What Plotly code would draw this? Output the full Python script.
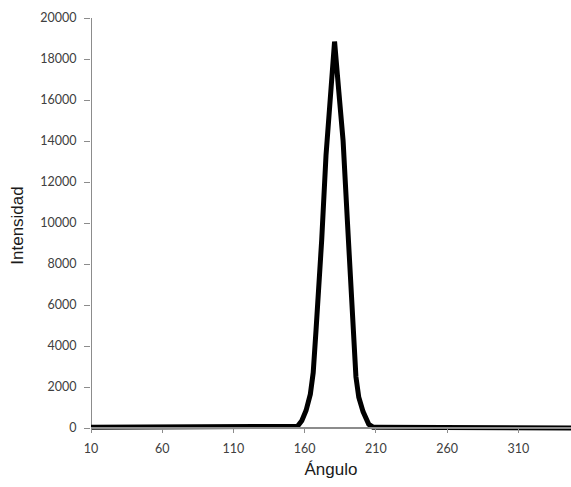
import plotly.graph_objects as go

# Intensity profile versus angle
angulo = [10, 20, 30, 40, 50, 60, 70, 80, 90, 100, 110, 120, 130, 140, 150,
          155, 158, 161, 164, 166, 168, 170, 172, 175, 178, 181,
          184, 187, 190, 192, 194, 196, 198, 201, 205, 208,
          210, 220, 230, 240, 250, 260, 270, 280, 290,
          291, 300, 310, 320, 330, 340, 350, 360]
intensidad = [40, 40, 40, 40, 40, 40, 40, 40, 40, 40, 40, 40, 40, 40, 40,
              80, 350, 850, 1650, 2700, 4780, 6900, 9200, 13300, 16100, 18850,
              16400, 14000, 10100, 7700, 5300, 2500, 1500, 800, 180, 40,
              40, 40, 40, 40, 40, 40, 40, 40, 40,
              0, 0, 0, 0, 0, 0, 0, 0]

x_ticks = [10, 60, 110, 160, 210, 260, 310]
y_ticks = list(range(0, 20001, 2000))

X_MIN, X_MAX = 10, 347
Y_MIN, Y_MAX = -244, 20000

axis_grey = "#8c8c8c"
tick_font = dict(family="Lato, Carlito, Open Sans, sans-serif", size=12.5, color="#404040")
title_font = dict(family="Liberation Sans, Arial, sans-serif", size=17, color="#1a1a1a")

fig = go.Figure()

fig.add_trace(go.Scatter(
    x=angulo, y=intensidad, mode="lines",
    line=dict(color="#000000", width=5),
    hoverinfo="skip", showlegend=False,
))

# vertical axis line from 0 to the top of the value range
fig.add_shape(type="line", xref="x", yref="y", x0=X_MIN, x1=X_MIN, y0=0, y1=Y_MAX,
              line=dict(color=axis_grey, width=2), layer="below")

fig.update_layout(
    width=571, height=487,
    margin=dict(l=91, r=0, t=18, b=54),
    paper_bgcolor="white", plot_bgcolor="white",
    xaxis=dict(
        range=[X_MIN, X_MAX], tickmode="array", tickvals=x_ticks,
        ticktext=[str(v) for v in x_ticks],
        showgrid=False, zeroline=False,
        showline=True, linecolor=axis_grey, linewidth=2,
        ticks="outside", ticklen=4, tickwidth=1, tickcolor=axis_grey,
        tickfont=tick_font, ticklabelstandoff=5,
        anchor="free", position=244 / 20244,
        title=dict(text="Ángulo", font=title_font, standoff=7),
    ),
    yaxis=dict(
        range=[Y_MIN, Y_MAX], tickmode="array", tickvals=y_ticks,
        ticktext=[str(v) for v in y_ticks],
        showgrid=False, zeroline=False, showline=False,
        ticks="outside", ticklen=6, tickwidth=1, tickcolor=axis_grey,
        tickfont=tick_font, ticklabelstandoff=5,
        title=dict(text="Intensidad", font=title_font, standoff=12),
    ),
)

fig.write_html("out.html")
